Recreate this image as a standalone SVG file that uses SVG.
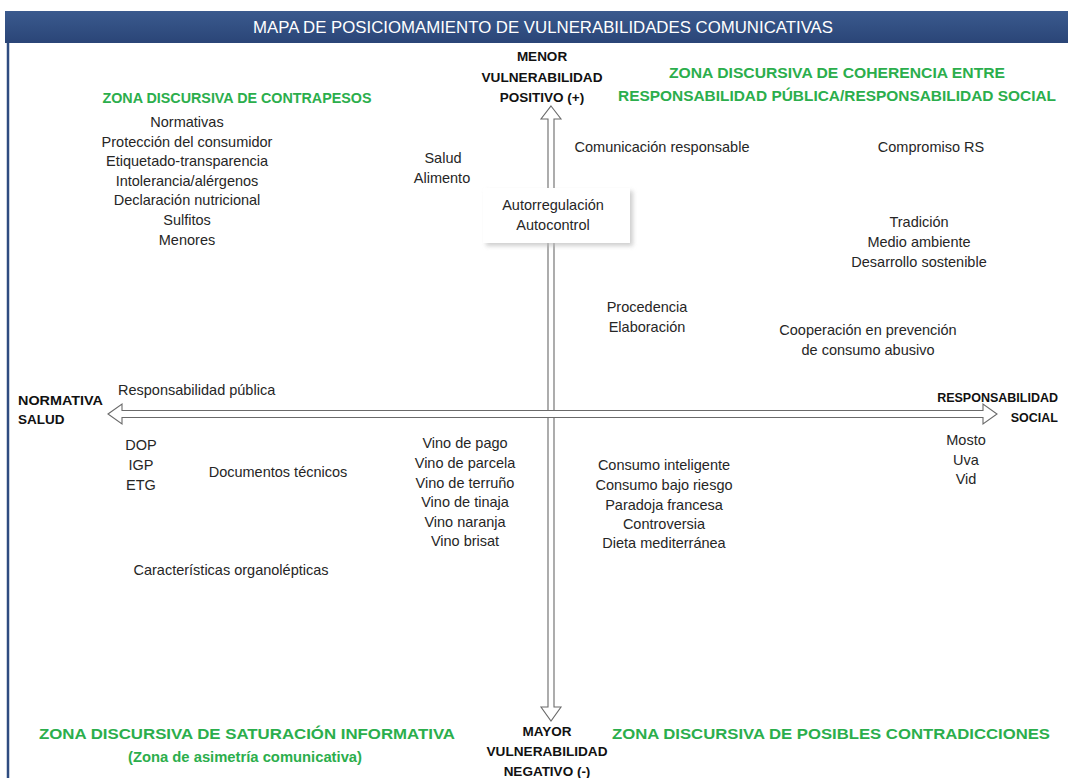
<svg xmlns="http://www.w3.org/2000/svg" width="1068" height="778" viewBox="0 0 1068 778">
<defs>
<style>
text{font-family:"Liberation Sans",Arial,sans-serif;}
.t{font-size:14.5px;fill:#262626;text-anchor:middle;}
.tl{font-size:14.5px;fill:#262626;text-anchor:start;}
.b{font-size:13.5px;font-weight:bold;fill:#111;text-anchor:middle;}
.bl{font-size:13.5px;font-weight:bold;fill:#111;text-anchor:start;}
.be{font-size:12.5px;font-weight:bold;fill:#111;text-anchor:end;}
.g{font-size:15px;font-weight:bold;fill:#2BAE4C;text-anchor:middle;}
.arrow{fill:#fff;stroke:#6a6a6a;stroke-width:1.1;}
</style>
<filter id="sh" x="-10%" y="-10%" width="130%" height="140%">
<feGaussianBlur stdDeviation="2"/>
</filter>
<linearGradient id="bar" x1="0" y1="0" x2="0" y2="1">
<stop offset="0" stop-color="#3A5A8E"/>
<stop offset="1" stop-color="#2A4577"/>
</linearGradient>
</defs>
<rect x="0" y="0" width="1068" height="778" fill="#fff"/>
<g id="frame">
<rect x="5" y="11" width="1070" height="32" fill="url(#bar)"/>
<line x1="8" y1="43" x2="8" y2="778" stroke="#2F4C80" stroke-width="2.5"/>
<text x="543" y="33" font-size="17" fill="#fff" text-anchor="middle" textLength="580" lengthAdjust="spacingAndGlyphs">MAPA DE POSICIOMAMIENTO DE VULNERABILIDADES COMUNICATIVAS</text>
</g>
<g id="connectors">
<polygon class="arrow" points="551,106 561,119 554,119 554,707 561,707 551,721 541,707 548,707 548,119 541,119"/>
<polygon class="arrow" points="108,414 122,404 122,410.5 983,410.5 983,404 997,414 983,424 983,417.5 122,417.5 122,424"/>
</g>
<g id="axis-top">
<text class="b" x="542" y="61">MENOR</text>
<text class="b" x="542" y="82" textLength="121" lengthAdjust="spacingAndGlyphs">VULNERABILIDAD</text>
<text class="b" x="542" y="102">POSITIVO (+)</text>
</g>
<g id="axis-bottom">
<text class="b" x="547" y="736">MAYOR</text>
<text class="b" x="547" y="756" textLength="121" lengthAdjust="spacingAndGlyphs">VULNERABILIDAD</text>
<text class="b" x="547" y="776">NEGATIVO (-)</text>
</g>
<g id="axis-left">
<text class="bl" x="18" y="405" textLength="85" lengthAdjust="spacingAndGlyphs">NORMATIVA</text>
<text class="bl" x="18" y="424">SALUD</text>
</g>
<g id="axis-right">
<text class="be" text-anchor="end" x="1058" y="402">RESPONSABILIDAD</text>
<text class="be" text-anchor="end" x="1058" y="422">SOCIAL</text>
</g>
<g id="zone-contrapesos">
<text class="g" x="237" y="103" textLength="269" lengthAdjust="spacingAndGlyphs">ZONA DISCURSIVA DE CONTRAPESOS</text>
<text class="t" x="187" y="127">Normativas</text>
<text class="t" x="187" y="147">Protección del consumidor</text>
<text class="t" x="187" y="166">Etiquetado-transparencia</text>
<text class="t" x="187" y="186">Intolerancia/alérgenos</text>
<text class="t" x="187" y="205">Declaración nutricional</text>
<text class="t" x="187" y="225">Sulfitos</text>
<text class="t" x="187" y="245">Menores</text>
</g>
<g id="zone-coherencia">
<text class="g" x="837" y="78" textLength="336" lengthAdjust="spacingAndGlyphs">ZONA DISCURSIVA DE COHERENCIA ENTRE</text>
<text class="g" x="837" y="101" textLength="438" lengthAdjust="spacingAndGlyphs">RESPONSABILIDAD PÚBLICA/RESPONSABILIDAD SOCIAL</text>
</g>
<g id="salud-alimento">
<text class="t" x="443" y="163">Salud</text>
<text class="t" x="442" y="183">Alimento</text>
</g>
<g id="autorregulacion">
<rect x="486" y="191" width="147" height="55" fill="#bbb" filter="url(#sh)" opacity="0.7"/>
<rect x="483" y="188" width="147" height="55" fill="#fff"/>
<text class="t" x="553" y="210">Autorregulación</text>
<text class="t" x="553" y="230">Autocontrol</text>
</g>
<g id="comunicacion">
<text class="t" x="662" y="152">Comunicación responsable</text>
</g>
<g id="compromiso">
<text class="t" x="931" y="152">Compromiso RS</text>
</g>
<g id="tradicion">
<text class="t" x="919" y="227">Tradición</text>
<text class="t" x="919" y="247">Medio ambiente</text>
<text class="t" x="919" y="267">Desarrollo sostenible</text>
</g>
<g id="procedencia">
<text class="t" x="647" y="312">Procedencia</text>
<text class="t" x="647" y="332">Elaboración</text>
</g>
<g id="cooperacion">
<text class="t" x="868" y="335">Cooperación en prevención</text>
<text class="t" x="868" y="355">de consumo abusivo</text>
</g>
<g id="resp-publica">
<text class="tl" x="118" y="395">Responsabilidad pública</text>
</g>
<g id="dop">
<text class="t" x="141" y="450">DOP</text>
<text class="t" x="141" y="470">IGP</text>
<text class="t" x="141" y="490">ETG</text>
</g>
<g id="documentos">
<text class="t" x="278" y="477">Documentos técnicos</text>
</g>
<g id="organolepticas">
<text class="t" x="231" y="575">Características organolépticas</text>
</g>
<g id="vinos">
<text class="t" x="465" y="448">Vino de pago</text>
<text class="t" x="465" y="468">Vino de parcela</text>
<text class="t" x="465" y="488">Vino de terruño</text>
<text class="t" x="465" y="507">Vino de tinaja</text>
<text class="t" x="465" y="527">Vino naranja</text>
<text class="t" x="465" y="546">Vino brisat</text>
</g>
<g id="consumo">
<text class="t" x="664" y="470">Consumo inteligente</text>
<text class="t" x="664" y="490">Consumo bajo riesgo</text>
<text class="t" x="664" y="510">Paradoja francesa</text>
<text class="t" x="664" y="529">Controversia</text>
<text class="t" x="664" y="548">Dieta mediterránea</text>
</g>
<g id="mosto">
<text class="t" x="966" y="445">Mosto</text>
<text class="t" x="966" y="465">Uva</text>
<text class="t" x="966" y="484">Vid</text>
</g>
<g id="zone-saturacion">
<text class="g" x="247" y="739" textLength="416" lengthAdjust="spacingAndGlyphs">ZONA DISCURSIVA DE SATURACIÓN INFORMATIVA</text>
<text class="g" x="245" y="762" textLength="234" lengthAdjust="spacingAndGlyphs">(Zona de asimetría comunicativa)</text>
</g>
<g id="zone-contradicciones">
<text class="g" x="831" y="739" textLength="438" lengthAdjust="spacingAndGlyphs">ZONA DISCURSIVA DE POSIBLES CONTRADICCIONES</text>
</g>
</svg>
